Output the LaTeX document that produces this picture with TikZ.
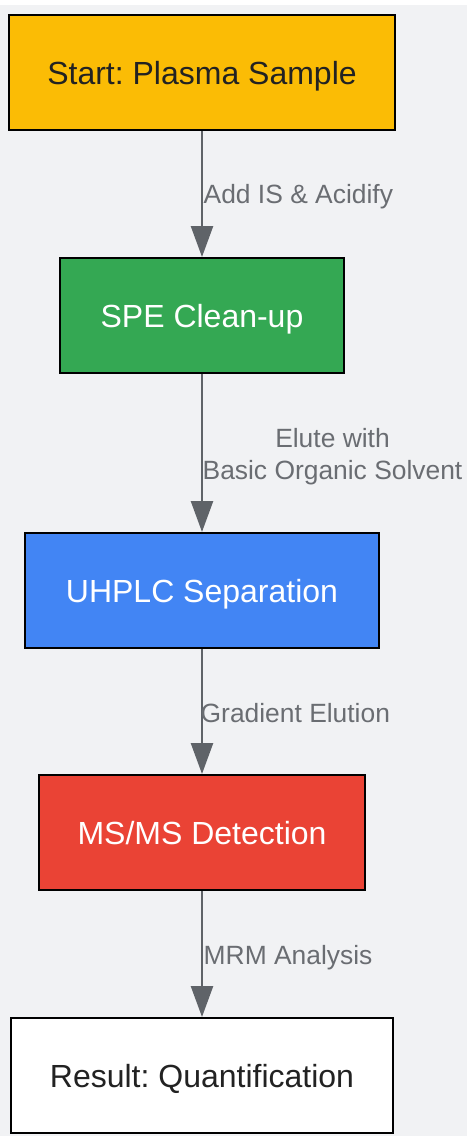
\documentclass[tikz,border=0pt]{standalone}
\usepackage{fontspec}
\setmainfont{Liberation Sans}
\usetikzlibrary{arrows.meta}
\frenchspacing
\definecolor{bg}{HTML}{F1F2F4}
\definecolor{gyellow}{HTML}{FBBC05}
\definecolor{ggreen}{HTML}{34A853}
\definecolor{gblue}{HTML}{4285F4}
\definecolor{gred}{HTML}{EA4335}
\definecolor{darktext}{HTML}{222222}
\definecolor{edgecol}{HTML}{5F6368}
\definecolor{labelcol}{HTML}{6A6D72}
\tikzset{
  stepbox/.style={draw=black, line width=2pt, minimum height=115pt, inner sep=0pt,
    font=\fontsize{32}{38}\selectfont\frenchspacing, text=darktext, text height=23pt, text depth=0pt},
  flow/.style={draw=edgecol, line width=2.5pt, -{Triangle[length=31pt,width=22pt]}},
  elabel/.style={font=\fontsize{26.4}{32}\selectfont, text=labelcol, inner sep=0pt},
  onelabel/.style={elabel, anchor=west, text height=18.9pt, text depth=0pt}
}
\begin{document}
\begin{tikzpicture}[x=1pt,y=-1pt]
\useasboundingbox (0,0) rectangle (467,1136);
\fill[white] (0,0) rectangle (467,1136);
\fill[bg] (0,5) rectangle (467,1136);
\node[stepbox, fill=gyellow, minimum width=386pt] (start) at (202,72.5) {Start: Plasma Sample};
\node[stepbox, fill=ggreen, minimum width=284pt, text=white] (spe) at (202,315.5) {SPE Clean-up};
\node[stepbox, fill=gblue, minimum width=354pt, text=white] (uhplc) at (202,590.5) {UHPLC Separation};
\node[stepbox, fill=gred, minimum width=326pt, text=white] (msms) at (202,832.5) {MS/MS Detection};
\node[stepbox, fill=white, minimum width=382pt] (result) at (202,1075.5) {Result: Quantification};
\draw[flow] (start.south) -- (spe.north);
\draw[flow] (spe.south) -- (uhplc.north);
\draw[flow] (uhplc.south) -- (msms.north);
\draw[flow] (msms.south) -- (result.north);
\node[onelabel] (l1) at (203.5,194) {Add IS \& Acidify};
\node[elabel, align=center] (l2) at (332.5,457) {Elute with\\Basic Organic Solvent};
\node[onelabel] (l3) at (200.5,713) {Gradient Elution};
\node[onelabel] (l4) at (203.5,955) {MRM Analysis};
\end{tikzpicture}
\end{document}
